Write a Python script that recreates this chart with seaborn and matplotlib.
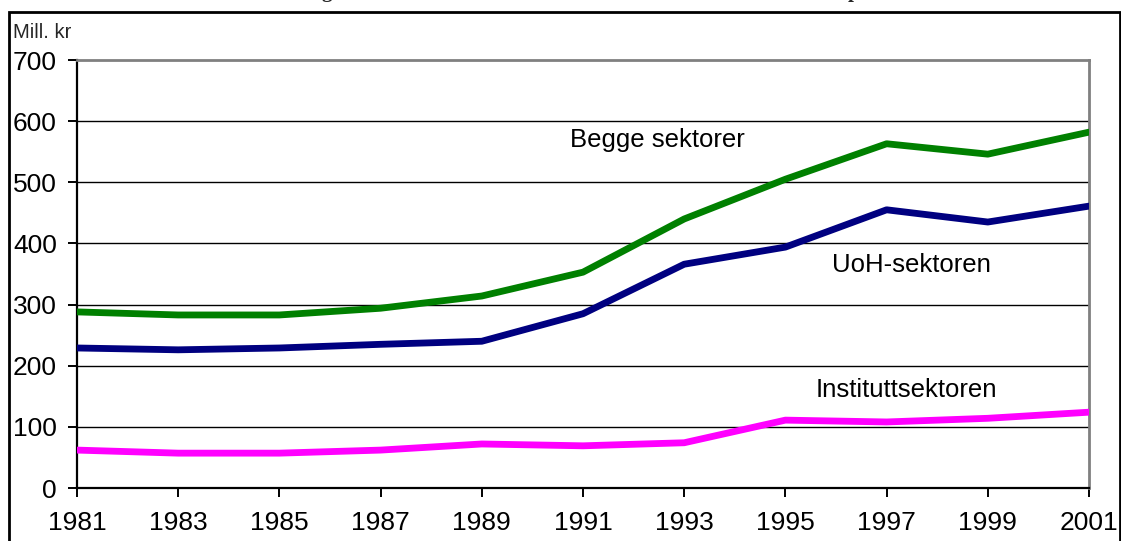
import matplotlib
matplotlib.use("Agg")
import matplotlib.pyplot as plt
import seaborn as sns
import pandas as pd
from matplotlib.patches import Rectangle

years = [1981, 1983, 1985, 1987, 1989, 1991, 1993, 1995, 1997, 1999, 2001]
begge = [288, 283, 283, 294, 314, 353, 440, 505, 563, 546, 582]
uoh = [229, 226, 229, 235, 240, 285, 366, 394, 455, 435, 461]
institutt = [62, 57, 57, 62, 72, 69, 74, 111, 108, 114, 124]
series_names = ["Begge sektorer", "UoH-sektoren", "Instituttsektoren"]
y_ticks = [0, 100, 200, 300, 400, 500, 600, 700]
y_label = "Mill. kr"

df = pd.concat([
    pd.DataFrame({"year": years, "value": begge, "serie": series_names[0]}),
    pd.DataFrame({"year": years, "value": uoh, "serie": series_names[1]}),
    pd.DataFrame({"year": years, "value": institutt, "serie": series_names[2]}),
])

sns.set_theme(style="white")
plt.rcParams["font.family"] = ["Liberation Sans", "DejaVu Sans"]

W, H = 1121, 541
fig = plt.figure(figsize=(W / 100, H / 100), dpi=100)
ax = fig.add_axes([77 / W, 1 - 488 / H, (1089 - 77) / W, (488 - 60) / H])

palette = {series_names[0]: "#008000", series_names[1]: "#000080", series_names[2]: "#FF00FF"}
sns.lineplot(data=df, x="year", y="value", hue="serie", palette=palette,
             linewidth=4.9, legend=False, ax=ax, zorder=3)

ax.set_xlim(years[0], years[-1])
ax.set_ylim(y_ticks[0], y_ticks[-1])
ax.set_xticks(years)
ax.set_xticklabels([str(y) for y in years])
ax.set_yticks(y_ticks)
ax.set_xlabel("")
ax.set_ylabel("")

for yv in y_ticks[1:-1]:
    ax.axhline(yv, color="black", linewidth=1.0, zorder=1)

for s in ["left", "bottom"]:
    ax.spines[s].set_color("black")
    ax.spines[s].set_linewidth(1.6)
for s in ["top", "right"]:
    ax.spines[s].set_color("#808080")
    ax.spines[s].set_linewidth(2.0)

ax.tick_params(axis="both", which="major", direction="out", length=6.5, width=1.4,
               color="black", labelsize=19, labelcolor="black",
               bottom=True, left=True)
ax.tick_params(axis="x", pad=10)
ax.tick_params(axis="y", pad=8)

ax.text(1992.46, 569, series_names[0], fontsize=18.5, ha="center", va="center", color="black")
ax.text(1997.5, 365, series_names[1], fontsize=18.5, ha="center", va="center", color="black")
ax.text(1997.4, 160, series_names[2], fontsize=18.5, ha="center", va="center", color="black")

fig.text(13 / W, 1 - 32 / H, y_label, fontsize=14.5, ha="left", va="center",
         family=["Liberation Sans Narrow", "Liberation Sans", "DejaVu Sans"])

# figure frame
fig.patches.append(Rectangle((8.5 / W, -0.05), (1120 - 8.5) / W, 1.05 - 12.5 / H,
                             transform=fig.transFigure, fill=False,
                             edgecolor="black", linewidth=2.0, clip_on=False))

# cut-off title glyphs at top edge (the reference's title is cropped)
fig.text(327 / W, 1 + 2.5 / H, "g", fontsize=15, fontweight="bold", ha="center",
         va="baseline", family=["Liberation Serif", "DejaVu Serif"])
fig.text(854 / W, 1 + 2.5 / H, "p", fontsize=15, fontweight="bold", ha="center",
         va="baseline", family=["Liberation Serif", "DejaVu Serif"])

fig.savefig("out.png", dpi=100)
